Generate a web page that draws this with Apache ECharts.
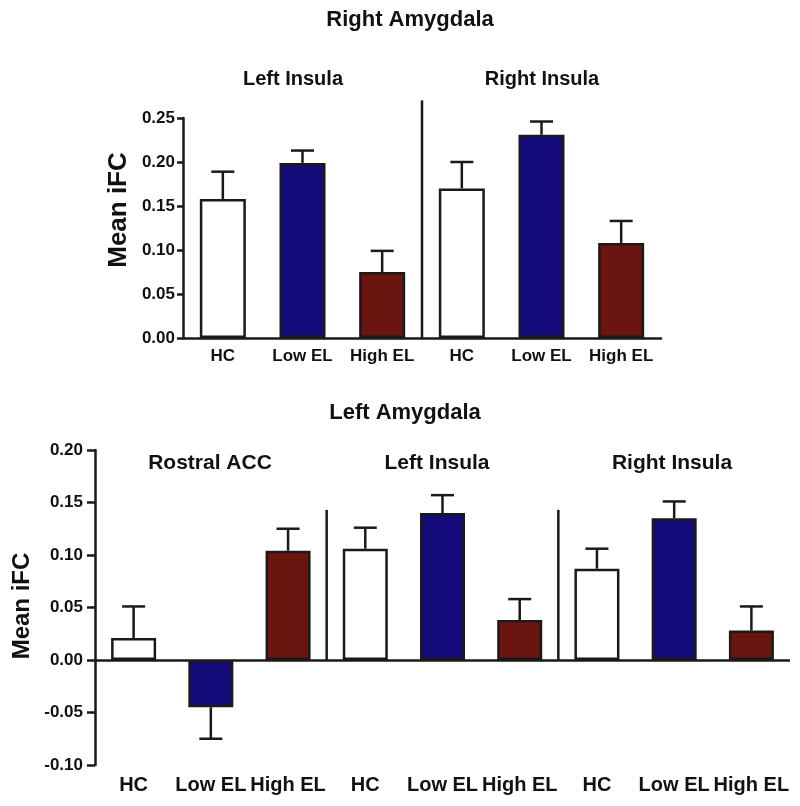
<!DOCTYPE html>
<html>
<head>
<meta charset="utf-8">
<script src="https://cdn.jsdelivr.net/npm/echarts@6/dist/echarts.min.js"></script>
<style>
html,body{margin:0;padding:0;background:#fff;}
#chart{width:800px;height:806px;}
</style>
</head>
<body>
<div id="chart"></div>
<script>
// ---- data ----
var topCategories = ['HC', 'Low EL', 'High EL', 'HC', 'Low EL', 'High EL'];
var topMeans = [0.158, 0.199, 0.075, 0.170, 0.231, 0.108];
var topErrEnds = [0.189, 0.213, 0.099, 0.200, 0.246, 0.133];
var topGroups = ['Left Insula', 'Right Insula'];

var bottomCategories = ['HC', 'Low EL', 'High EL', 'HC', 'Low EL', 'High EL', 'HC', 'Low EL', 'High EL'];
var bottomMeans = [0.021, -0.045, 0.104, 0.106, 0.140, 0.038, 0.087, 0.135, 0.028];
var bottomErrEnds = [0.051, -0.075, 0.125, 0.126, 0.157, 0.058, 0.106, 0.151, 0.051];
var bottomGroups = ['Rostral ACC', 'Left Insula', 'Right Insula'];

// group boundaries: [left category index, right category index, divider top value]
var topDividers = [[2, 3, 0.27]];
var bottomDividers = [[2, 3, 0.143], [5, 6, 0.143]];

// ---- style ----
var groupColors = ['#ffffff', '#140a7a', '#6b1510'];
var FONT = '"Liberation Sans", Arial, Helvetica, sans-serif';

function barData(vals) {
  return vals.map(function (v, i) {
    return { value: v, itemStyle: { color: groupColors[i % 3] } };
  });
}

function errData(means, ends) {
  return means.map(function (m, i) { return [i, m, ends[i]]; });
}

function errRender(params, api) {
  var i = api.value(0);
  var p0 = api.coord([i, api.value(1)]);
  var p1 = api.coord([i, api.value(2)]);
  var half = 11.5;
  var st = { stroke: '#1a1a1a', lineWidth: 2.5 };
  return {
    type: 'group',
    children: [
      { type: 'line', shape: { x1: p0[0], y1: p0[1], x2: p1[0], y2: p1[1] }, style: st },
      { type: 'line', shape: { x1: p1[0] - half, y1: p1[1], x2: p1[0] + half, y2: p1[1] }, style: st }
    ]
  };
}

function divRender(params, api) {
  var a = api.coord([api.value(0), 0]);
  var b = api.coord([api.value(1), 0]);
  var t = api.coord([api.value(0), api.value(2)]);
  var x = (a[0] + b[0]) / 2;
  return {
    type: 'line',
    shape: { x1: x, y1: a[1], x2: x, y2: t[1] },
    style: { stroke: '#1a1a1a', lineWidth: 2.5 }
  };
}

function fmt(v) { return v.toFixed(2); }

var chart = echarts.init(document.getElementById('chart'), null, { renderer: 'canvas' });

var option = {
  backgroundColor: '#ffffff',
  animation: false,
  textStyle: { fontFamily: FONT },
  grid: [
    { left: 183, right: 139, top: 118, height: 220 },
    { left: 95, right: 10, top: 450, height: 315 }
  ],
  xAxis: [
    {
      type: 'category', gridIndex: 0, data: topCategories,
      axisLine: { show: true, lineStyle: { color: '#1a1a1a', width: 2.5 } },
      axisTick: { show: false },
      axisLabel: { color: '#111', fontFamily: FONT, fontWeight: 'bold', fontSize: 17, margin: 10, interval: 0 }
    },
    {
      type: 'category', gridIndex: 1, data: bottomCategories,
      axisLine: { show: false, onZero: false },
      axisTick: { show: false },
      axisLabel: { color: '#111', fontFamily: FONT, fontWeight: 'bold', fontSize: 20, margin: 10, interval: 0 }
    }
  ],
  yAxis: [
    {
      type: 'value', gridIndex: 0, min: 0, max: 0.25, interval: 0.05,
      splitLine: { show: false },
      axisLine: { show: true, lineStyle: { color: '#1a1a1a', width: 2.5 } },
      axisTick: { show: true, length: 6, lineStyle: { color: '#1a1a1a', width: 2.5 } },
      axisLabel: { color: '#111', fontFamily: FONT, fontWeight: 'bold', fontSize: 17, margin: 8, formatter: fmt }
    },
    {
      type: 'value', gridIndex: 1, min: -0.10, max: 0.20, interval: 0.05,
      splitLine: { show: false },
      axisLine: { show: true, lineStyle: { color: '#1a1a1a', width: 2.5 } },
      axisTick: { show: true, length: 8, lineStyle: { color: '#1a1a1a', width: 2.5 } },
      axisLabel: { color: '#111', fontFamily: FONT, fontWeight: 'bold', fontSize: 17, margin: 12, formatter: fmt }
    }
  ],
  series: [
    {
      type: 'bar', xAxisIndex: 0, yAxisIndex: 0, barWidth: 46,
      data: barData(topMeans),
      itemStyle: { borderColor: '#1a1a1a', borderWidth: 2.5 },
      z: 3
    },
    {
      type: 'custom', xAxisIndex: 0, yAxisIndex: 0,
      data: errData(topMeans, topErrEnds), renderItem: errRender, z: 2
    },
    {
      type: 'custom', xAxisIndex: 0, yAxisIndex: 0, clip: false,
      data: topDividers, renderItem: divRender, z: 4
    },
    {
      type: 'bar', xAxisIndex: 1, yAxisIndex: 1, barWidth: 45,
      data: barData(bottomMeans),
      itemStyle: { borderColor: '#1a1a1a', borderWidth: 2.5 },
      markLine: {
        silent: true, symbol: 'none', label: { show: false },
        lineStyle: { color: '#1a1a1a', width: 2.5, type: 'solid' },
        data: [{ yAxis: 0 }]
      },
      z: 3
    },
    {
      type: 'custom', xAxisIndex: 1, yAxisIndex: 1,
      data: errData(bottomMeans, bottomErrEnds), renderItem: errRender, z: 2
    },
    {
      type: 'custom', xAxisIndex: 1, yAxisIndex: 1, clip: false,
      data: bottomDividers, renderItem: divRender, z: 4
    }
  ],
  graphic: [
    { type: 'text', x: 410, y: 20, style: { text: 'Right Amygdala', font: 'bold 22px ' + FONT, fill: '#111', align: 'center', verticalAlign: 'middle' } },
    { type: 'text', x: 293, y: 79, style: { text: topGroups[0], font: 'bold 20px ' + FONT, fill: '#111', align: 'center', verticalAlign: 'middle' } },
    { type: 'text', x: 542, y: 79, style: { text: topGroups[1], font: 'bold 20px ' + FONT, fill: '#111', align: 'center', verticalAlign: 'middle' } },
    { type: 'text', x: 119, y: 210, rotation: Math.PI / 2, style: { text: 'Mean iFC', font: 'bold 26px ' + FONT, fill: '#111', align: 'center', verticalAlign: 'middle' } },

    { type: 'text', x: 405, y: 413, style: { text: 'Left Amygdala', font: 'bold 22px ' + FONT, fill: '#111', align: 'center', verticalAlign: 'middle' } },
    { type: 'text', x: 210, y: 463, style: { text: bottomGroups[0], font: 'bold 21px ' + FONT, fill: '#111', align: 'center', verticalAlign: 'middle' } },
    { type: 'text', x: 437, y: 463, style: { text: bottomGroups[1], font: 'bold 21px ' + FONT, fill: '#111', align: 'center', verticalAlign: 'middle' } },
    { type: 'text', x: 672, y: 463, style: { text: bottomGroups[2], font: 'bold 21px ' + FONT, fill: '#111', align: 'center', verticalAlign: 'middle' } },
    { type: 'text', x: 22, y: 606, rotation: Math.PI / 2, style: { text: 'Mean iFC', font: 'bold 24px ' + FONT, fill: '#111', align: 'center', verticalAlign: 'middle' } }
  ]
};

chart.setOption(option);
</script>
</body>
</html>
